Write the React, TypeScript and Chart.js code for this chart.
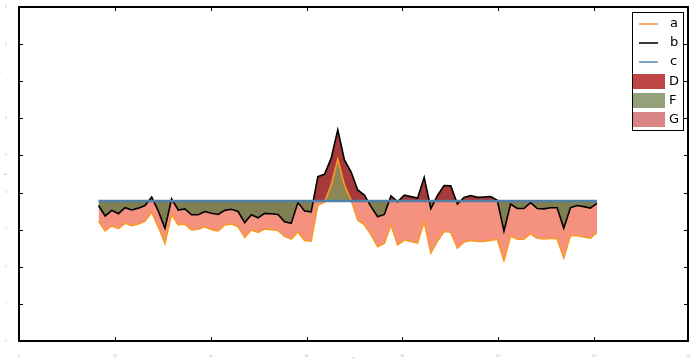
import React, { useEffect, useRef } from "react";
import { Chart, registerables } from "chart.js";

Chart.register(...registerables);

// series a (orange line)
const A = [
  3.23, 2.97, 3.10, 3.03, 3.17, 3.11, 3.15, 3.23, 3.47, 3.07,
  2.63, 3.41, 3.13, 3.15, 2.99, 3.01, 3.08, 3.00, 2.97, 3.13,
  3.15, 3.08, 2.79, 2.99, 2.93, 3.02, 3.00, 2.98, 2.82, 2.75,
  2.94, 2.71, 2.69, 3.66, 3.74, 4.20, 4.90, 4.20, 3.80, 3.26,
  3.13, 2.86, 2.54, 2.63, 3.13, 2.59, 2.72, 2.68, 2.64, 3.21,
  2.37, 2.69, 2.95, 2.93, 2.50, 2.67, 2.71, 2.68, 2.68, 2.71,
  2.74, 2.16, 2.83, 2.74, 2.74, 2.89, 2.77, 2.75, 2.77, 2.75,
  2.24, 2.84, 2.84, 2.80, 2.77, 2.92,
];

// series b (black line)
const B = [
  3.65, 3.37, 3.52, 3.43, 3.59, 3.53, 3.58, 3.65, 3.88, 3.50,
  3.04, 3.83, 3.53, 3.56, 3.40, 3.40, 3.49, 3.44, 3.41, 3.52,
  3.55, 3.49, 3.19, 3.40, 3.32, 3.44, 3.43, 3.41, 3.21, 3.17,
  3.73, 3.50, 3.48, 4.43, 4.49, 4.92, 5.69, 4.88, 4.56, 4.07,
  3.93, 3.62, 3.35, 3.41, 3.91, 3.75, 3.93, 3.89, 3.85, 4.41,
  3.57, 3.92, 4.19, 4.18, 3.69, 3.87, 3.92, 3.87, 3.88, 3.89,
  3.79, 2.96, 3.69, 3.57, 3.57, 3.73, 3.57, 3.56, 3.59, 3.59,
  3.04, 3.59, 3.65, 3.62, 3.58, 3.71,
];

// series c (constant blue line)
const C_LEVEL = 3.77;

// x positions (sample index)
const X = A.map((_, i) => i);

// axis ranges and ticks
const X_MIN = -11.96;
const X_MAX = 88.69;
const XTICKS = [-11.96, 2.48, 16.89, 31.3, 45.71, 60.12, 74.53, 88.69];
const XTICK_LABELS = ["0", "20", "40", "60", "80", "100", "120", "140"];
const Y_MIN = 0;
const Y_MAX = 9;

const LINE_LABELS = ["a", "b", "c"];
const PATCH_LABELS = ["D", "F", "G"];

export default function App() {
  const ref = useRef<HTMLCanvasElement | null>(null);

  useEffect(() => {
    const canvas = ref.current;
    if (!canvas) return;

    const decor = {
      id: "decor",
      afterDatasetsDraw(chart: any) {
        const { ctx, chartArea: ca, scales } = chart;
        ctx.save();
        ctx.strokeStyle = "#000";
        ctx.lineWidth = 1;
        ctx.beginPath();
        const tl = 4;
        scales.y.ticks.forEach((t: any) => {
          const py = Math.round(scales.y.getPixelForValue(t.value)) + 0.5;
          ctx.moveTo(ca.left, py);
          ctx.lineTo(ca.left + tl, py);
          ctx.moveTo(ca.right, py);
          ctx.lineTo(ca.right - tl, py);
        });
        scales.x.ticks.forEach((t: any) => {
          const px = Math.round(scales.x.getPixelForValue(t.value)) + 0.5;
          ctx.moveTo(px, ca.top);
          ctx.lineTo(px, ca.top + tl);
          ctx.moveTo(px, ca.bottom);
          ctx.lineTo(px, ca.bottom - tl);
        });
        ctx.stroke();
        ctx.lineWidth = 2;
        ctx.strokeRect(ca.left, ca.top, ca.right - ca.left, ca.bottom - ca.top);
        ctx.restore();
      },
      afterDraw(chart: any) {
        const { ctx } = chart;
        ctx.save();
        // legend box
        ctx.fillStyle = "#fff";
        ctx.fillRect(633, 13, 51, 118);
        ctx.strokeStyle = "#000";
        ctx.lineWidth = 1;
        ctx.strokeRect(632.5, 12.5, 51, 118);
        const lineColors = ["#f5ae62", "#3a3a3a", "#7fa4c8"];
        const lineYs = [24, 43, 62];
        ctx.lineWidth = 2;
        lineYs.forEach((y, i) => {
          ctx.strokeStyle = lineColors[i];
          ctx.beginPath();
          ctx.moveTo(639, y);
          ctx.lineTo(658, y);
          ctx.stroke();
        });
        const patchColors = ["#c04545", "#93a07a", "#d98484"];
        const patchYs = [74, 93, 112];
        patchYs.forEach((y, i) => {
          ctx.fillStyle = patchColors[i];
          ctx.fillRect(633, y, 32, 15);
        });
        ctx.fillStyle = "#000";
        ctx.font = '13px "DejaVu Sans"';
        ctx.textBaseline = "middle";
        ctx.textAlign = "left";
        LINE_LABELS.forEach((t, i) => ctx.fillText(t, 670, lineYs[i]));
        PATCH_LABELS.forEach((t, i) => ctx.fillText(t, 669, patchYs[i] + 7.5));
        ctx.restore();
      },
    };

    const chart = new Chart(canvas, {
      type: "line",
      data: {
        datasets: [
          {
            label: "a",
            data: A.map((y, i) => ({ x: X[i], y })),
            borderColor: "#f99a26",
            borderWidth: 1.6,
            pointRadius: 0,
            tension: 0,
            order: 1,
            fill: { target: 2, above: "rgba(114,212,112,0.5)", below: "rgba(235,35,0,0.5)" },
          },
          {
            label: "b",
            data: B.map((y, i) => ({ x: X[i], y })),
            borderColor: "#000",
            borderWidth: 1.6,
            pointRadius: 0,
            tension: 0,
            order: 2,
            fill: { target: 2, above: "#a63a3a", below: "rgb(19,219,164)" },
          },
          {
            label: "c",
            data: X.map((x) => ({ x, y: C_LEVEL })),
            borderColor: "#5080a8",
            borderWidth: 2.5,
            pointRadius: 0,
            tension: 0,
            order: 0,
            fill: false,
          },
        ],
      },
      options: {
        animation: false,
        responsive: false,
        layout: { padding: { top: 7, right: 8, left: 0, bottom: 0 }, autoPadding: false },
        plugins: {
          legend: { display: false },
          tooltip: { enabled: false },
          filler: { drawTime: "beforeDatasetsDraw" },
        } as any,
        scales: {
          x: {
            type: "linear",
            min: X_MIN,
            max: X_MAX,
            grid: { display: false },
            border: { display: false },
            afterBuildTicks: (s: any) => {
              s.ticks = XTICKS.map((v) => ({ value: v }));
            },
            afterFit: (s: any) => {
              s.height = 21;
            },
            ticks: {
              autoSkip: false,
              maxRotation: 0,
              padding: 5,
              font: { size: 3 },
              color: "rgba(0,0,0,0.3)",
              callback: (_v: any, i: number) => XTICK_LABELS[i],
            },
            title: { display: true, text: "x", font: { size: 4 }, color: "rgba(0,0,0,0.35)", padding: 2 },
          },
          y: {
            type: "linear",
            min: Y_MIN,
            max: Y_MAX,
            grid: { display: false },
            border: { display: false },
            afterFit: (s: any) => {
              s.width = 19;
            },
            ticks: {
              stepSize: 1,
              padding: 4,
              font: { size: 3 },
              color: "rgba(0,0,0,0.3)",
            },
            title: { display: true, text: "y", font: { size: 4 }, color: "rgba(0,0,0,0.35)", padding: 2 },
          },
        },
      },
      plugins: [decor],
    });

    return () => chart.destroy();
  }, []);

  return (
    <div style={{ position: "fixed", left: 0, top: 0, width: 696, height: 362, background: "#fff" }}>
      <canvas ref={ref} width={696} height={362} style={{ display: "block" }} />
    </div>
  );
}
